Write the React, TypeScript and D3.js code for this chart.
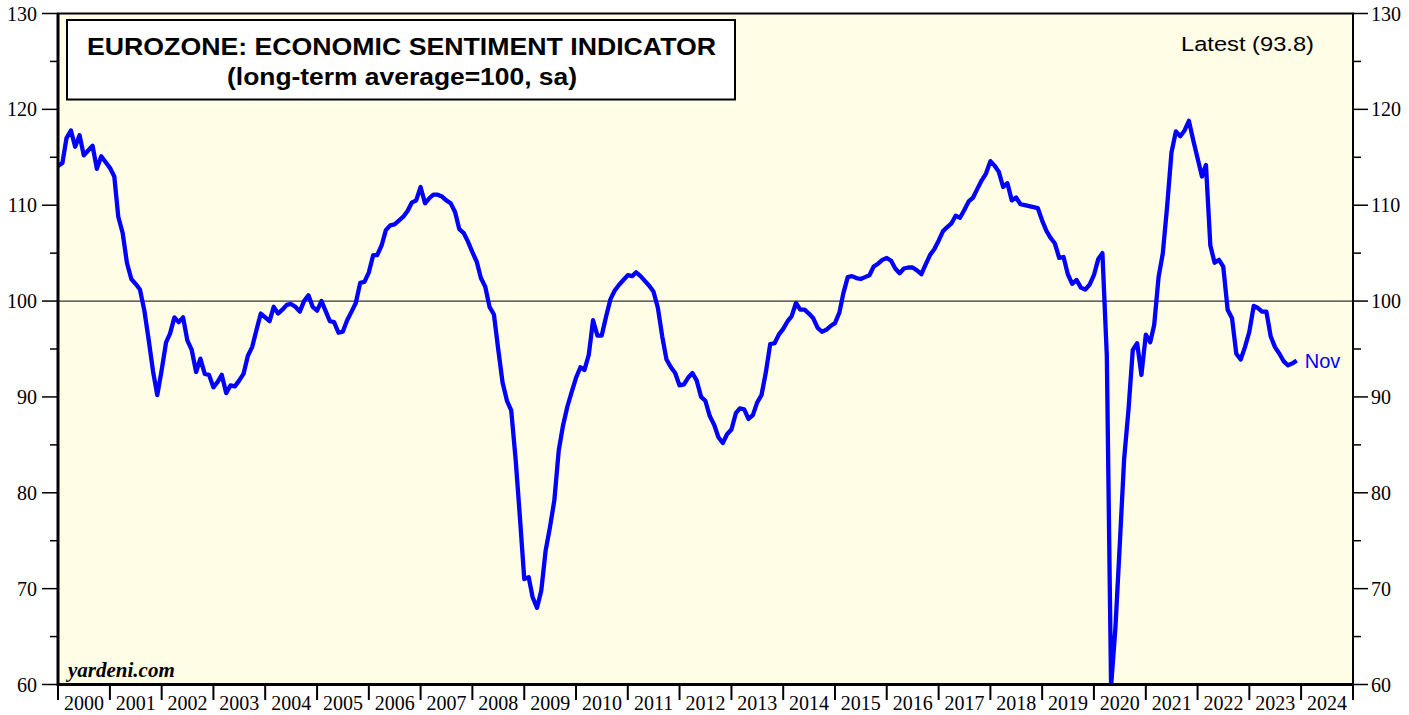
import * as d3 from "d3";

// Eurozone Economic Sentiment Indicator, monthly, Dec 1999 .. Nov 2023
const startYear = 1999;
const startMonth = 11; // December
const esiValues = [
  114.1,
  114.4, 117.0, 117.8, 116.1, 117.3, 115.2, 115.7, 116.2, 113.8, 115.1, 114.5, 113.9, // 2000
  113.0, 108.8, 107.1, 104.0, 102.3, 101.8, 101.2, 99.0, 96.0, 92.7, 90.2, 92.8, // 2001
  95.7, 96.6, 98.3, 97.8, 98.3, 95.9, 94.9, 92.6, 94.0, 92.4, 92.3, 91.0, // 2002
  91.6, 92.3, 90.4, 91.2, 91.1, 91.7, 92.4, 94.3, 95.2, 97.0, 98.7, 98.3, // 2003
  97.9, 99.4, 98.7, 99.1, 99.6, 99.7, 99.4, 98.9, 100.0, 100.6, 99.4, 99.0, // 2004
  100.0, 99.0, 97.9, 97.8, 96.7, 96.8, 98.0, 98.9, 99.8, 101.9, 102.0, 103.0, // 2005
  104.8, 104.8, 105.8, 107.4, 107.9, 108.0, 108.4, 108.8, 109.4, 110.3, 110.5, 111.9, // 2006
  110.2, 110.7, 111.1, 111.1, 110.9, 110.5, 110.2, 109.3, 107.5, 107.1, 106.2, 105.1, // 2007
  104.1, 102.4, 101.5, 99.4, 98.6, 95.0, 91.5, 89.6, 88.6, 83.5, 77.5, 71.0, // 2008
  71.2, 69.1, 68.0, 69.8, 74.0, 76.4, 79.2, 84.4, 87.0, 89.0, 90.5, 92.0, // 2009
  93.1, 92.8, 94.4, 98.0, 96.4, 96.4, 98.4, 100.2, 101.1, 101.7, 102.2, 102.7, // 2010
  102.6, 103.0, 102.6, 102.1, 101.6, 101.0, 99.3, 96.3, 93.9, 93.1, 92.5, 91.2, // 2011
  91.3, 92.0, 92.5, 91.7, 90.0, 89.6, 88.0, 87.1, 85.8, 85.2, 86.1, 86.6, // 2012
  88.3, 88.8, 88.7, 87.7, 88.1, 89.4, 90.2, 92.6, 95.5, 95.6, 96.5, 97.1, // 2013
  97.9, 98.4, 99.8, 99.1, 99.1, 98.7, 98.2, 97.2, 96.8, 97.0, 97.4, 97.7, // 2014
  98.8, 100.8, 102.5, 102.6, 102.4, 102.3, 102.5, 102.7, 103.6, 103.9, 104.3, 104.5, // 2015
  104.2, 103.4, 102.9, 103.4, 103.5, 103.5, 103.2, 102.8, 103.8, 104.8, 105.4, 106.3, // 2016
  107.3, 107.7, 108.1, 108.9, 108.7, 109.5, 110.4, 110.8, 111.7, 112.6, 113.3, 114.6, // 2017
  114.1, 113.5, 111.9, 112.3, 110.5, 110.8, 110.1, 110.0, 109.9, 109.8, 109.7, 108.4, // 2018
  107.3, 106.6, 106.0, 104.5, 104.6, 102.8, 101.8, 102.2, 101.4, 101.2, 101.7, 102.7, // 2019
  104.4, 105.0, 94.3, 59.8, 66.0, 74.5, 83.5, 88.7, 94.9, 95.6, 92.3, 96.5, // 2020
  95.7, 97.5, 102.5, 105.0, 110.0, 115.5, 117.7, 117.2, 117.8, 118.8, 116.8, 114.9, // 2021
  113.0, 114.2, 105.8, 104.0, 104.3, 103.6, 99.1, 98.2, 94.5, 93.9, 95.2, 96.8, // 2022
  99.5, 99.3, 98.9, 98.9, 96.3, 95.2, 94.5, 93.7, 93.3, 93.5, 93.8, // 2023
];

const yMajorTicks = [60, 70, 80, 90, 100, 110, 120, 130];
const yMinorTicks = [65, 75, 85, 95, 105, 115, 125];
const yearLabels = d3.range(2000, 2025);

const titleLines = ["EUROZONE: ECONOMIC SENTIMENT INDICATOR", "(long-term average=100, sa)"];
const latestLabel = "Latest (93.8)";
const lastMonthLabel = "Nov";

export default function App() {
  const width = 1409;
  const height = 715;
  const plot = { left: 58, right: 1353, top: 13.5, bottom: 684.5 };

  const x = d3
    .scaleTime()
    .domain([new Date(2000, 0, 1), new Date(2025, 0, 1)])
    .range([plot.left, plot.right]);

  const y = d3.scaleLinear().domain([60, 130]).range([plot.bottom, plot.top]);

  // each reading is plotted at the end of its month
  const points = esiValues.map((v, i) => ({
    date: new Date(startYear, startMonth + i + 1, 1),
    value: v,
  }));

  const line = d3
    .line<{ date: Date; value: number }>()
    .x((d) => x(d.date))
    .y((d) => y(d.value));

  const last = points[points.length - 1];
  const serif = "'Liberation Serif', 'Times New Roman', serif";
  const sans = "'Liberation Sans', Arial, sans-serif";

  return (
    <svg
      width={width}
      height={height}
      style={{ position: "absolute", left: 0, top: 0, background: "white" }}
    >
      <defs>
        <clipPath id="plotClip">
          <rect x={plot.left} y={plot.top} width={plot.right - plot.left} height={plot.bottom - plot.top} />
        </clipPath>
      </defs>

      {/* plot background */}
      <rect
        x={plot.left}
        y={plot.top}
        width={plot.right - plot.left}
        height={plot.bottom - plot.top}
        fill="#fffde6"
      />

      {/* reference line at 100 */}
      <line x1={plot.left} x2={plot.right} y1={y(100)} y2={y(100)} stroke="#333" strokeWidth={1.3} />

      {/* title box */}
      <rect x={67} y={20} width={668} height={79.5} fill="white" stroke="black" strokeWidth={2} />
      <text
        x={87}
        y={54.5}
        fontFamily={sans}
        fontWeight="bold"
        fontSize={23.5}
        textLength={629}
        lengthAdjust="spacingAndGlyphs"
      >
        {titleLines[0]}
      </text>
      <text
        x={227}
        y={84.5}
        fontFamily={sans}
        fontWeight="bold"
        fontSize={23.5}
        textLength={350}
        lengthAdjust="spacingAndGlyphs"
      >
        {titleLines[1]}
      </text>

      <text x={1181} y={51} fontFamily={sans} fontSize={20.5} textLength={133} lengthAdjust="spacingAndGlyphs">
        {latestLabel}
      </text>

      {/* series */}
      <path
        d={line(points) ?? ""}
        fill="none"
        stroke="#0000ff"
        strokeWidth={4.3}
        strokeLinejoin="round"
        clipPath="url(#plotClip)"
      />
      <text x={x(last.date) + 8} y={y(last.value) + 7.5} fontFamily={sans} fontSize={20} fill="#0000ff">
        {lastMonthLabel}
      </text>

      <text x={68} y={676.5} fontFamily={serif} fontStyle="italic" fontWeight="bold" fontSize={21}>
        yardeni.com
      </text>

      {/* frame */}
      <rect
        x={plot.left}
        y={plot.top}
        width={plot.right - plot.left}
        height={plot.bottom - plot.top}
        fill="none"
        stroke="black"
        strokeWidth={2}
      />
      <line x1={plot.left} x2={plot.left} y1={plot.top} y2={plot.bottom + 1.5} stroke="black" strokeWidth={3} />
      <line x1={plot.left} x2={plot.right} y1={plot.bottom} y2={plot.bottom} stroke="black" strokeWidth={3} />

      {/* y axes, left and right */}
      {yMajorTicks.map((t) => (
        <g key={"maj" + t}>
          <line x1={42} x2={plot.left} y1={y(t)} y2={y(t)} stroke="black" strokeWidth={1.5} />
          <line x1={plot.right} x2={1368} y1={y(t)} y2={y(t)} stroke="black" strokeWidth={1.5} />
          <text x={37} y={y(t) + 7} textAnchor="end" fontFamily={serif} fontSize={20}>
            {t}
          </text>
          <text x={1371} y={y(t) + 7} textAnchor="start" fontFamily={serif} fontSize={20}>
            {t}
          </text>
        </g>
      ))}
      {yMinorTicks.map((t) => (
        <g key={"min" + t}>
          <line x1={50} x2={plot.left} y1={y(t)} y2={y(t)} stroke="black" strokeWidth={1.5} />
          <line x1={plot.right} x2={1361} y1={y(t)} y2={y(t)} stroke="black" strokeWidth={1.5} />
        </g>
      ))}

      {/* x axis: year ticks and centred year labels */}
      {d3.range(2000, 2026).map((yr) => (
        <line
          key={"xt" + yr}
          x1={x(new Date(yr, 0, 1))}
          x2={x(new Date(yr, 0, 1))}
          y1={plot.bottom}
          y2={700}
          stroke="black"
          strokeWidth={2}
        />
      ))}
      {yearLabels.map((yr) => (
        <text
          key={"xl" + yr}
          x={(x(new Date(yr, 0, 1)) + x(new Date(yr + 1, 0, 1))) / 2}
          y={710}
          textAnchor="middle"
          fontFamily={serif}
          fontSize={20}
        >
          {yr}
        </text>
      ))}
    </svg>
  );
}
